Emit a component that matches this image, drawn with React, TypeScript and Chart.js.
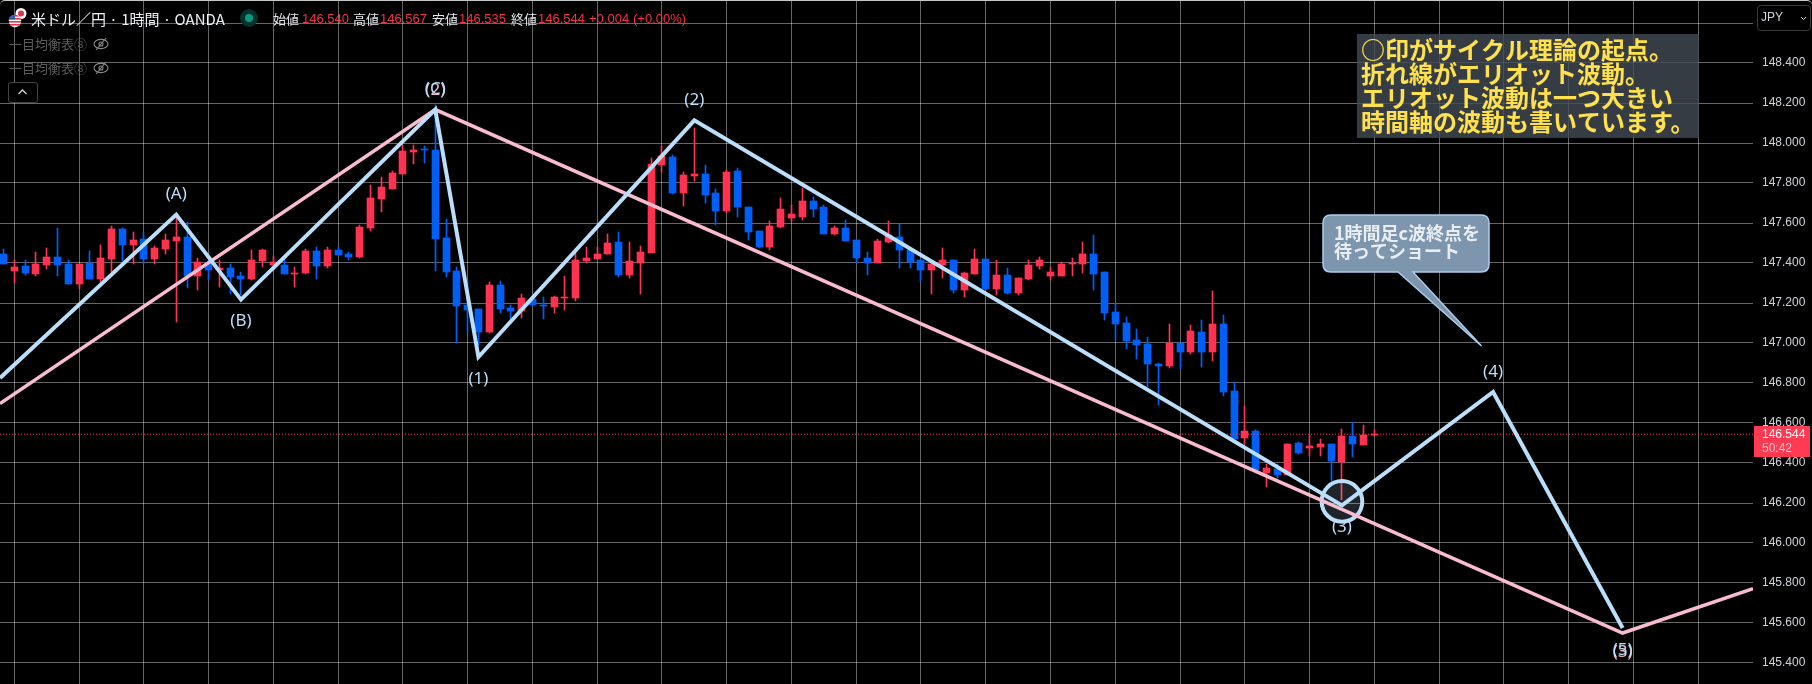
import React, { useEffect, useRef } from "react";
import { Chart, registerables } from "chart.js";

Chart.register(...registerables);

const opens = [
  147.447,147.362,147.387,147.347,147.392,147.432,147.397,147.297,147.398,147.322,
  147.422,147.572,147.492,147.522,147.422,147.472,147.512,147.532,147.337,147.400,
  147.367,147.377,147.337,147.322,147.412,147.392,147.392,147.347,147.352,147.462,
  147.387,147.467,147.447,147.432,147.577,147.722,147.772,147.847,147.957,147.972,
  147.967,147.527,147.362,147.192,147.172,147.057,147.292,147.177,147.162,147.222,
  147.192,147.182,147.227,147.227,147.412,147.422,147.447,147.507,147.342,147.402,
  147.452,147.892,147.932,147.752,147.837,147.847,147.752,147.662,147.862,147.682,
  147.562,147.482,147.582,147.627,147.632,147.712,147.682,147.547,147.577,147.517,
  147.427,147.402,147.507,147.532,147.467,147.417,147.367,147.392,147.417,147.267,
  147.347,147.422,147.272,147.342,147.252,147.322,147.387,147.337,147.337,147.397,
  147.397,147.447,147.357,147.157,147.102,147.017,146.997,146.897,146.887,147.002,
  146.957,147.057,146.957,147.097,146.762,146.527,146.562,146.352,146.372,146.342,
  146.502,146.477,146.482,146.497,146.407,146.537,146.492,146.540,
];
const highs = [
  147.470,147.417,147.417,147.457,147.477,147.577,147.417,147.397,147.462,147.490,
  147.587,147.577,147.557,147.550,147.487,147.547,147.633,147.607,147.427,147.417,
  147.417,147.397,147.357,147.467,147.472,147.437,147.422,147.382,147.472,147.482,
  147.482,147.482,147.457,147.592,147.792,147.832,147.862,147.992,147.992,147.987,
  148.192,147.622,147.382,147.317,147.172,147.307,147.312,147.192,147.247,147.222,
  147.232,147.237,147.337,147.450,147.482,147.482,147.547,147.557,147.507,147.487,
  147.927,147.987,147.942,147.857,148.077,147.892,147.772,147.867,147.877,147.682,
  147.562,147.612,147.727,147.692,147.777,147.732,147.692,147.587,147.617,147.517,
  147.457,147.522,147.612,147.597,147.467,147.417,147.417,147.477,147.417,147.357,
  147.472,147.422,147.417,147.377,147.327,147.417,147.432,147.382,147.407,147.427,
  147.507,147.542,147.357,147.200,147.132,147.072,147.032,146.902,147.097,147.002,
  147.092,147.117,147.262,147.142,146.807,146.687,146.567,146.397,146.397,146.497,
  146.507,146.542,146.522,146.497,146.572,146.607,146.592,146.567,
];
const lows = [
  147.397,147.300,147.342,147.337,147.372,147.337,147.297,147.272,147.322,147.303,
  147.357,147.408,147.397,147.397,147.397,147.447,147.107,147.277,147.267,147.317,
  147.282,147.247,147.242,147.317,147.382,147.367,147.347,147.282,147.347,147.322,
  147.377,147.442,147.417,147.427,147.562,147.657,147.772,147.847,147.897,147.902,
  147.362,147.332,147.000,147.050,146.992,147.052,147.152,147.117,147.127,147.187,
  147.122,147.152,147.167,147.212,147.398,147.422,147.447,147.332,147.327,147.247,
  147.452,147.857,147.747,147.687,147.812,147.702,147.592,147.652,147.632,147.517,
  147.477,147.467,147.577,147.607,147.617,147.632,147.547,147.542,147.512,147.402,
  147.342,147.402,147.502,147.377,147.377,147.312,147.247,147.327,147.252,147.232,
  147.347,147.272,147.242,147.247,147.242,147.317,147.372,147.317,147.337,147.337,
  147.352,147.267,147.117,147.017,146.972,146.922,146.782,146.692,146.877,146.872,
  146.947,146.882,146.912,146.737,146.522,146.497,146.357,146.282,146.327,146.342,
  146.447,146.437,146.437,146.308,146.217,146.432,146.490,146.535,
];
const closes = [
  147.397,147.382,147.352,147.397,147.432,147.392,147.297,147.397,147.322,147.427,
  147.572,147.492,147.517,147.422,147.477,147.517,147.532,147.337,147.407,147.367,
  147.377,147.332,147.322,147.417,147.467,147.407,147.347,147.352,147.462,147.387,
  147.467,147.442,147.432,147.582,147.727,147.782,147.852,147.962,147.967,147.967,
  147.522,147.357,147.187,147.167,147.057,147.292,147.172,147.162,147.227,147.192,
  147.187,147.232,147.232,147.417,147.427,147.447,147.502,147.342,147.412,147.457,
  147.897,147.933,147.752,147.842,147.847,147.742,147.662,147.857,147.682,147.557,
  147.482,147.587,147.672,147.647,147.712,147.672,147.547,147.577,147.512,147.427,
  147.402,147.512,147.542,147.467,147.407,147.367,147.397,147.417,147.267,147.352,
  147.422,147.272,147.342,147.252,147.327,147.392,147.417,147.357,147.397,147.400,
  147.447,147.347,147.152,147.097,147.012,146.992,146.897,146.887,147.002,146.957,
  147.062,146.957,147.097,146.757,146.522,146.562,146.367,146.377,146.342,146.497,
  146.452,146.487,146.497,146.412,146.537,146.497,146.542,146.544,
];

const xMin = -0.325;
const xMax = 162.08;
const yMin = 145.295;
const yMax = 148.715;

const blueLineIdx = [xMin, 16, 22, 40, 44, 64, 124, 138, 150];
const blueLinePrices = [146.825, 147.642, 147.217, 148.167, 146.93, 148.113, 146.188, 146.755, 145.575];
const blueLabels = ["", "(A)", "(B)", "(C)", "(1)", "(2)", "(3)", "(4)", "(5)"];

const pinkLineIdx = [xMin, 40, 150, xMax];
const pinkLinePrices = [146.697, 148.167, 145.55, 145.772];
const pinkLabels = ["", "(2)", "(3)", ""];

const circleIdx = 124;
const circlePrice = 146.208;
const lastPrice = 146.544;

const yTickValues = [148.6, 148.4, 148.2, 148.0, 147.8, 147.6, 147.4, 147.2, 147.0, 146.8, 146.6, 146.4, 146.2, 146.0, 145.8, 145.6, 145.4];
const xGridIdx = [1, 7, 13, 19, 25, 31, 37, 43, 49, 55, 61, 67, 73, 79, 85, 91, 97, 103, 109, 115, 121, 127, 133, 139, 145, 151, 157];

const infoLines = ["○印がサイクル理論の起点。", "折れ線がエリオット波動。", "エリオット波動は一つ大きい", "時間軸の波動も書いています。"];
const calloutLines = ["1時間足c波終点を", "待ってショート"];
const calloutTipIdx = 136.93;
const calloutTipPrice = 146.985;

const ohlcLabels = ["始値", "高値", "安値", "終値"];
const ohlcValues = ["146.540", "146.567", "146.535", "146.544"];

const RED = "#ff334f";
const BLUE = "#005ff7";
const LINE_BLUE = "#bbdefb";
const LINE_PINK = "#f8bbd0";
const CJK = '"Noto Sans CJK JP"';
const LATIN = '"Liberation Sans", "Noto Sans CJK JP"';

const candleColors = closes.map((c, i) => (c >= opens[i] ? RED : BLUE));

function drawWaveLabels(chart: any, idx: number[], prices: number[], labels: string[], color: string, above: number, below: number) {
  const { ctx, scales } = chart;
  ctx.save();
  ctx.font = '17px "Noto Sans"';
  ctx.fillStyle = color;
  ctx.textAlign = "center";
  ctx.textBaseline = "middle";
  labels.forEach((t, i) => {
    if (!t) return;
    const x = scales.x.getPixelForValue(idx[i]);
    const y = scales.y.getPixelForValue(prices[i]);
    const up = i > 0 && prices[i] > prices[i - 1];
    ctx.fillText(t, x, y + (up ? above : below));
  });
  ctx.restore();
}

const annotationPlugin = {
  id: "annotations",
  afterDatasetsUpdate(chart: any) {
    // snap candle rectangles to whole pixels, as the platform draws them
    chart.data.datasets.forEach((ds: any, di: number) => {
      if (ds.type !== "bar") return;
      chart.getDatasetMeta(di).data.forEach((el: any) => {
        el.x = Math.floor(el.x) + 0.5;
        const a = Math.round(el.y);
        let b = Math.round(el.base);
        if (a === b) b = a + 1;
        el.y = a;
        el.base = b;
        el.height = b - a;
      });
    });
  },
  afterDatasetsDraw(chart: any) {
    drawWaveLabels(chart, pinkLineIdx, pinkLinePrices, pinkLabels, LINE_PINK, -19, 19);
    drawWaveLabels(chart, blueLineIdx, blueLinePrices, blueLabels, LINE_BLUE, -20, 22);
  },
  afterDraw(chart: any) {
    const { ctx, scales } = chart;
    ctx.save();

    // information box
    ctx.fillStyle = "rgba(68,75,85,0.8)";
    ctx.fillRect(1357, 34, 342, 104);
    ctx.fillStyle = "#ffe14d";
    ctx.font = `700 24px ${CJK}`;
    ctx.textAlign = "left";
    ctx.textBaseline = "middle";
    infoLines.forEach((t, i) => ctx.fillText(t, 1361, 50 + i * 24));

    // callout with its tail
    const tipX = scales.x.getPixelForValue(calloutTipIdx);
    const tipY = scales.y.getPixelForValue(calloutTipPrice);
    const L = 1323, T = 215, R = 1489, B = 272, r = 8;
    ctx.beginPath();
    ctx.moveTo(L + r, T);
    ctx.lineTo(R - r, T);
    ctx.quadraticCurveTo(R, T, R, T + r);
    ctx.lineTo(R, B - r);
    ctx.quadraticCurveTo(R, B, R - r, B);
    ctx.lineTo(1413, B);
    ctx.lineTo(tipX, tipY);
    ctx.lineTo(1398, B);
    ctx.lineTo(L + r, B);
    ctx.quadraticCurveTo(L, B, L, B - r);
    ctx.lineTo(L, T + r);
    ctx.quadraticCurveTo(L, T, L + r, T);
    ctx.closePath();
    ctx.fillStyle = "#7d96ae";
    ctx.fill();
    ctx.strokeStyle = "#a9cdee";
    ctx.lineWidth = 1.5;
    ctx.stroke();
    ctx.fillStyle = "#e9eef3";
    ctx.font = `700 18px ${CJK}`;
    calloutLines.forEach((t, i) => ctx.fillText(t, 1334, 233 + i * 18));

    // last price tag
    ctx.fillStyle = "#ff3a52";
    ctx.fillRect(1754, 426, 56, 31);
    ctx.fillStyle = "#ffffff";
    ctx.font = `12px ${LATIN}`;
    ctx.fillText(lastPrice.toFixed(3), 1762, 435);
    ctx.fillStyle = "#ffc4cb";
    ctx.fillText("50:42", 1762, 449);

    // currency button
    ctx.fillStyle = "#000000";
    ctx.strokeStyle = "#3a3a3a";
    ctx.lineWidth = 1;
    ctx.beginPath();
    ctx.roundRect(1757.5, 5.5, 53, 25, 3);
    ctx.fill();
    ctx.stroke();
    ctx.fillStyle = "#d1d4dc";
    ctx.font = `12px ${LATIN}`;
    ctx.fillText("JPY", 1761, 18);
    ctx.strokeStyle = "#d1d4dc";
    ctx.beginPath();
    ctx.moveTo(1801, 17);
    ctx.lineTo(1803.5, 19.5);
    ctx.lineTo(1806, 17);
    ctx.stroke();

    ctx.restore();
  },
};

const spanAt = (left: number, top: number, color: string, size: number): React.CSSProperties => ({
  position: "absolute",
  left,
  top,
  color,
  fontSize: size,
  lineHeight: "16px",
  whiteSpace: "nowrap",
  fontFamily: LATIN,
});

function EyeOff({ top }: { top: number }) {
  return (
    <svg style={{ position: "absolute", left: 93, top }} width="16" height="16" viewBox="0 0 16 16" fill="none" stroke="#8a8a8a" strokeWidth="1.1">
      <ellipse cx="8" cy="8" rx="7" ry="4.6" />
      <circle cx="8" cy="8" r="2" />
      <line x1="3" y1="14" x2="13" y2="2" />
    </svg>
  );
}

export default function App() {
  const ref = useRef<HTMLCanvasElement>(null);

  useEffect(() => {
    const wicks = highs.map((h, i) => ({ x: i, y: [lows[i], h] }));
    const bodies = opens.map((o, i) => ({ x: i, y: [Math.min(o, closes[i]), Math.max(o, closes[i])] }));
    const chart = new Chart(ref.current as HTMLCanvasElement, {
      data: {
        datasets: [
          {
            type: "bar",
            data: wicks,
            backgroundColor: candleColors,
            barThickness: 1,
            grouped: false,
            borderWidth: 0,
            borderSkipped: false,
            order: 6,
          },
          {
            type: "bar",
            data: bodies,
            backgroundColor: candleColors,
            barThickness: 7,
            grouped: false,
            borderWidth: 0,
            borderSkipped: false,
            order: 5,
          },
          {
            type: "line",
            data: [{ x: xMin, y: lastPrice }, { x: xMax, y: lastPrice }],
            borderColor: "#ff3a52",
            borderWidth: 1,
            borderDash: [1, 2],
            pointRadius: 0,
            order: 4,
          },
          {
            type: "line",
            data: [{ x: circleIdx, y: circlePrice }],
            showLine: false,
            pointRadius: 20.3,
            pointBorderWidth: 4,
            pointBackgroundColor: "rgba(187,222,251,0.16)",
            pointBorderColor: LINE_BLUE,
            order: 3,
          },
          {
            type: "line",
            data: pinkLineIdx.map((x, i) => ({ x, y: pinkLinePrices[i] })),
            borderColor: LINE_PINK,
            borderWidth: 3.5,
            borderJoinStyle: "miter",
            tension: 0,
            pointRadius: 0,
            order: 2,
          },
          {
            type: "line",
            data: blueLineIdx.map((x, i) => ({ x, y: blueLinePrices[i] })),
            borderColor: LINE_BLUE,
            borderWidth: 4,
            borderJoinStyle: "miter",
            tension: 0,
            pointRadius: 0,
            order: 1,
          },
        ],
      } as any,
      options: {
        responsive: false,
        animation: false,
        events: [],
        layout: { padding: 0, autoPadding: false },
        plugins: { legend: { display: false }, tooltip: { enabled: false } },
        scales: {
          x: {
            type: "linear",
            offset: false,
            min: xMin,
            max: xMax,
            border: { display: false },
            grid: { offset: false, color: "rgba(255,255,255,0.4)", lineWidth: 1, drawTicks: false },
            ticks: { display: false },
            afterBuildTicks: (axis: any) => {
              axis.ticks = xGridIdx.map((value) => ({ value }));
            },
            afterFit: (axis: any) => {
              axis.height = 0;
              axis.paddingLeft = 0;
              axis.paddingRight = 0;
            },
          },
          y: {
            type: "linear",
            position: "right",
            min: yMin,
            max: yMax,
            border: { display: false },
            grid: { color: "rgba(255,255,255,0.4)", lineWidth: 1, drawTicks: false },
            ticks: {
              autoSkip: false,
              padding: 9,
              color: "#d1d4dc",
              font: { family: "Liberation Sans", size: 12 },
              callback: (v: any) => Number(v).toFixed(3),
            },
            afterBuildTicks: (axis: any) => {
              axis.ticks = yTickValues.map((value) => ({ value }));
            },
            afterFit: (axis: any) => {
              axis.width = 59;
              axis.paddingTop = 0;
              axis.paddingBottom = 0;
            },
          },
        },
      } as any,
      plugins: [annotationPlugin],
    } as any);
    return () => chart.destroy();
  }, []);

  return (
    <div style={{ position: "fixed", left: 0, top: 0, width: 1812, height: 684, background: "#000", overflow: "hidden" }}>
      <canvas ref={ref} width={1812} height={684} style={{ display: "block" }} />
      <div style={{ position: "absolute", left: 0, top: 0, width: 1812, height: 8, boxSizing: "border-box", borderTop: "1px solid #c8c8c8", borderRadius: "5px 5px 0 0" }} />

      <svg style={{ position: "absolute", left: 8, top: 7 }} width="22" height="22" viewBox="0 0 22 22">
        <circle cx="13" cy="6.5" r="5.5" fill="#fff" />
        <circle cx="13" cy="6.5" r="3" fill="#e0354a" />
        <clipPath id="usflag"><circle cx="7" cy="14" r="6.2" /></clipPath>
        <g clipPath="url(#usflag)">
          <rect x="0" y="7" width="14" height="14" fill="#fff" />
          <rect x="0" y="8" width="14" height="1.6" fill="#e0354a" />
          <rect x="0" y="11" width="14" height="1.6" fill="#e0354a" />
          <rect x="0" y="14" width="14" height="1.6" fill="#e0354a" />
          <rect x="0" y="17" width="14" height="1.6" fill="#e0354a" />
          <rect x="0" y="7" width="7" height="5.5" fill="#2f5fb3" />
        </g>
      </svg>
      <span style={{ ...spanAt(31, 10, "#eceff4", 15), lineHeight: "18px", fontFamily: CJK }}>米ドル／円 · 1時間 · OANDA</span>

      <div style={{ position: "absolute", left: 240, top: 9, width: 18, height: 18, borderRadius: 9, background: "#06302c" }} />
      <div style={{ position: "absolute", left: 245, top: 14, width: 8, height: 8, borderRadius: 4, background: "#089981" }} />

      {ohlcLabels.map((t, i) => (
        <span key={t} style={{ ...spanAt([273, 353, 432, 511][i], 11, "#e4e6eb", 13), fontFamily: CJK }}>{t}</span>
      ))}
      {ohlcValues.map((t, i) => (
        <span key={t} style={spanAt([302, 380, 459, 538][i], 11, "#f23645", 13)}>{t}</span>
      ))}
      <span style={spanAt(589, 11, "#f23645", 13)}>+0.004</span>
      <span style={spanAt(633, 11, "#f23645", 13)}>(+0.00%)</span>

      <span style={{ ...spanAt(9, 36, "#5c5c5c", 13), fontFamily: CJK }}>一目均衡表⑧</span>
      <span style={{ ...spanAt(9, 60, "#5c5c5c", 13), fontFamily: CJK }}>一目均衡表⑧</span>
      <EyeOff top={36} />
      <EyeOff top={60} />

      <div style={{ position: "absolute", left: 8, top: 82, width: 28, height: 19, border: "1px solid #444", borderRadius: 3, background: "#000" }} />
      <svg style={{ position: "absolute", left: 17, top: 88 }} width="11" height="8" viewBox="0 0 11 8" fill="none" stroke="#d1d4dc" strokeWidth="1.3">
        <polyline points="1.5,6 5.5,2 9.5,6" />
      </svg>
    </div>
  );
}
